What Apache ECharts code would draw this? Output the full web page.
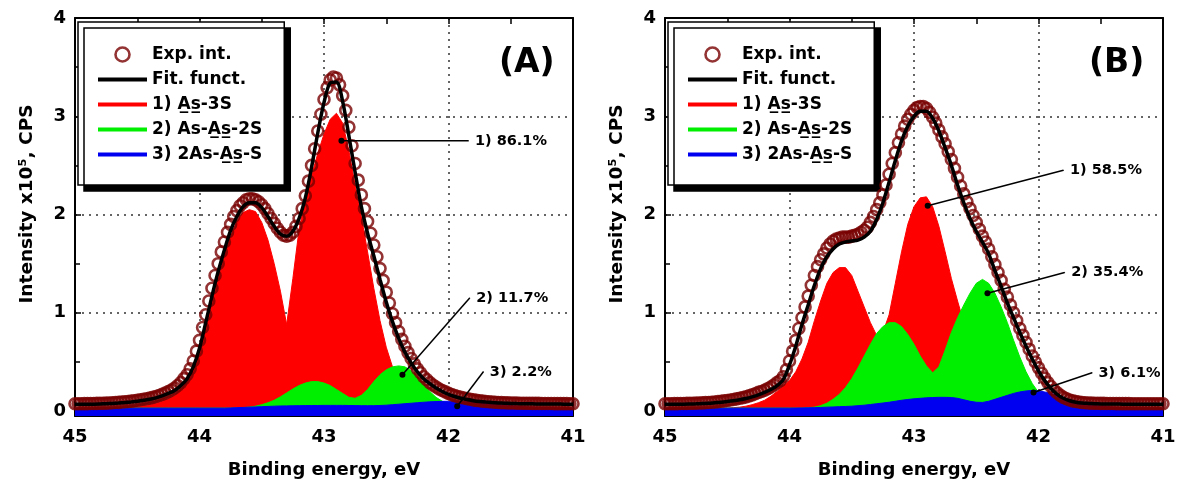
<!DOCTYPE html>
<html>
<head>
<meta charset="utf-8">
<title>As 3d XPS spectra</title>
<script src="https://cdn.jsdelivr.net/npm/echarts@6/dist/echarts.min.js"></script>
<style>
  html, body { margin: 0; padding: 0; background: #fff; }
  #chart { width: 1180px; height: 486px; }
</style>
</head>
<body>
<div id="chart"></div>
<script>
// Binding energy grids (eV), sampled from 45 down to 41.
function energyGrid(step) {
  const out = [];
  const n = Math.round(4 / step);
  for (let i = 0; i <= n; i++) out.push(+(45 - i * step).toFixed(3));
  return out;
}
const energyExp = energyGrid(0.025);   // experimental points
const energyFit = energyGrid(0.05);    // fit + components

const seriesNames = ['Exp. int.', 'Fit. funct.', '1) A\u0332s\u0332-3S', '2) As-A\u0332s\u0332-2S', '3) 2As-A\u0332s\u0332-S'];

// ---- Panel A (x10^5 CPS) ----
const expA = [
  0.075,0.075,0.075,0.076,0.076,0.077,0.077,0.078,0.079,0.08,
  0.081,0.083,0.085,0.087,0.089,0.092,0.095,0.098,0.101,0.105,
  0.11,0.115,0.12,0.125,0.132,0.14,0.148,0.158,0.17,0.183,
  0.198,0.215,0.235,0.26,0.29,0.33,0.37,0.43,0.51,0.61,
  0.72,0.85,0.98,1.12,1.25,1.38,1.5,1.62,1.72,1.82,
  1.9,1.98,2.04,2.09,2.12,2.15,2.16,2.16,2.15,2.13,
  2.1,2.06,2.01,1.96,1.91,1.86,1.82,1.79,1.78,1.79,
  1.82,1.88,1.96,2.06,2.19,2.34,2.5,2.67,2.85,3.02,
  3.17,3.29,3.37,3.4,3.39,3.32,3.21,3.06,2.89,2.7,
  2.52,2.35,2.2,2.06,1.93,1.81,1.69,1.57,1.45,1.33,
  1.21,1.1,0.99,0.9,0.81,0.73,0.66,0.595,0.535,0.48,
  0.43,0.39,0.35,0.32,0.29,0.265,0.245,0.225,0.21,0.195,
  0.18,0.168,0.157,0.148,0.14,0.133,0.126,0.12,0.114,0.109,
  0.105,0.101,0.098,0.095,0.092,0.09,0.088,0.086,0.085,0.084,
  0.083,0.082,0.081,0.08,0.08,0.079,0.079,0.078,0.078,0.078,
  0.077,0.077,0.077,0.077,0.076,0.076,0.076,0.076,0.076,0.075,
  0.075
];
const fitA = [
  0.07,0.07,0.07,0.07,0.072,0.075,0.078,0.082,0.087,0.093,
  0.1,0.11,0.12,0.135,0.155,0.18,0.21,0.26,0.33,0.45,
  0.64,0.9,1.17,1.42,1.64,1.84,1.98,2.08,2.12,2.12,
  2.07,1.98,1.88,1.8,1.78,1.83,1.96,2.17,2.48,2.83,
  3.14,3.34,3.35,3.15,2.8,2.43,2.08,1.81,1.58,1.34,
  1.11,0.91,0.74,0.6,0.49,0.4,0.33,0.28,0.235,0.2,
  0.17,0.148,0.13,0.117,0.106,0.098,0.092,0.087,0.083,0.08,
  0.078,0.076,0.075,0.074,0.073,0.072,0.072,0.071,0.071,0.07,
  0.07
];
const redA = [
  0.03,0.03,0.03,0.03,0.03,0.03,0.032,0.035,0.038,0.042,
  0.047,0.055,0.065,0.08,0.1,0.125,0.16,0.22,0.3,0.42,
  0.6,0.85,1.1,1.35,1.58,1.78,1.93,2.02,2.05,2.03,
  1.92,1.74,1.5,1.22,0.88,1.35,1.85,2.15,2.4,2.62,
  2.82,2.97,3.03,2.93,2.65,2.3,1.98,1.62,1.25,0.92,
  0.65,0.45,0.3,0.2,0.13,0.09,0.065,0.05,0.042,0.037,
  0.034,0.032,0.031,0.03,0.03,0.03,0.03,0.03,0.03,0.03,
  0.03,0.03,0.03,0.03,0.03,0.03,0.03,0.03,0.03,0.03,
  0.03
];
const greenA = [
  0.03,0.03,0.03,0.03,0.03,0.03,0.03,0.03,0.03,0.03,
  0.03,0.03,0.03,0.03,0.03,0.03,0.03,0.03,0.03,0.03,
  0.03,0.03,0.03,0.03,0.03,0.03,0.032,0.035,0.04,0.05,
  0.065,0.085,0.11,0.145,0.185,0.225,0.26,0.285,0.3,0.3,
  0.285,0.26,0.22,0.18,0.14,0.13,0.16,0.22,0.3,0.37,
  0.42,0.45,0.46,0.45,0.41,0.35,0.27,0.2,0.14,0.1,
  0.075,0.06,0.05,0.045,0.04,0.037,0.035,0.033,0.032,0.031,
  0.03,0.03,0.03,0.03,0.03,0.03,0.03,0.03,0.03,0.03,
  0.03
];
const blueA = [
  0.03,0.03,0.03,0.03,0.03,0.03,0.03,0.03,0.03,0.03,
  0.03,0.03,0.03,0.03,0.03,0.03,0.03,0.03,0.03,0.03,
  0.03,0.03,0.03,0.03,0.03,0.032,0.035,0.037,0.04,0.042,
  0.045,0.047,0.05,0.052,0.053,0.054,0.055,0.056,0.057,0.057,
  0.058,0.058,0.058,0.058,0.057,0.056,0.055,0.055,0.055,0.057,
  0.06,0.065,0.07,0.075,0.08,0.085,0.09,0.094,0.097,0.099,
  0.1,0.1,0.098,0.095,0.09,0.084,0.078,0.071,0.065,0.06,
  0.055,0.05,0.045,0.042,0.04,0.037,0.035,0.033,0.032,0.031,
  0.03
];
// annotation: [label, from (E, I), to (E, I)]
const notesA = [
  ['1) 86.1%', [42.86, 2.75], [41.84, 2.75]],
  ['2) 11.7%', [42.37, 0.37], [41.83, 1.15]],
  ['3) 2.2%',  [41.93, 0.05], [41.72, 0.40]]
];

// ---- Panel B ----
const expB = [
  0.075,0.075,0.075,0.076,0.076,0.077,0.077,0.078,0.079,0.08,
  0.081,0.082,0.084,0.086,0.088,0.09,0.093,0.096,0.1,0.104,
  0.108,0.113,0.118,0.124,0.13,0.137,0.145,0.155,0.165,0.177,
  0.19,0.2,0.212,0.228,0.245,0.265,0.29,0.31,0.35,0.42,
  0.51,0.61,0.72,0.84,0.95,1.06,1.17,1.28,1.38,1.47,
  1.54,1.6,1.66,1.7,1.73,1.75,1.76,1.77,1.77,1.77,
  1.78,1.79,1.8,1.82,1.84,1.87,1.92,1.98,2.05,2.12,
  2.2,2.3,2.41,2.52,2.63,2.73,2.82,2.9,2.97,3.02,
  3.06,3.09,3.1,3.1,3.08,3.04,2.99,2.93,2.86,2.79,
  2.72,2.64,2.56,2.47,2.38,2.29,2.21,2.13,2.06,1.99,
  1.92,1.85,1.78,1.72,1.65,1.57,1.49,1.41,1.33,1.24,
  1.16,1.08,1.0,0.92,0.84,0.77,0.7,0.63,0.56,0.5,
  0.44,0.385,0.335,0.29,0.25,0.215,0.185,0.16,0.14,0.125,
  0.113,0.104,0.097,0.092,0.088,0.085,0.083,0.081,0.08,0.079,
  0.078,0.078,0.077,0.077,0.077,0.076,0.076,0.076,0.076,0.076,
  0.075,0.075,0.075,0.075,0.075,0.075,0.075,0.075,0.075,0.075,
  0.075
];
const fitB = [
  0.07,0.07,0.07,0.07,0.072,0.074,0.077,0.08,0.085,0.09,
  0.097,0.105,0.115,0.128,0.145,0.165,0.19,0.22,0.26,0.32,
  0.47,0.66,0.88,1.08,1.28,1.45,1.57,1.65,1.7,1.72,
  1.73,1.74,1.77,1.83,1.95,2.12,2.33,2.55,2.75,2.9,
  3.0,3.05,3.05,2.98,2.85,2.68,2.5,2.3,2.12,1.96,
  1.83,1.72,1.6,1.43,1.27,1.1,0.95,0.8,0.66,0.53,
  0.41,0.31,0.23,0.17,0.13,0.105,0.09,0.082,0.078,0.075,
  0.073,0.072,0.071,0.071,0.07,0.07,0.07,0.07,0.07,0.07,
  0.07
];
const redB = [
  0.03,0.03,0.03,0.03,0.03,0.03,0.03,0.03,0.03,0.03,
  0.03,0.035,0.04,0.05,0.065,0.085,0.11,0.15,0.2,0.26,
  0.31,0.4,0.53,0.7,0.92,1.12,1.3,1.41,1.46,1.46,
  1.38,1.22,1.06,0.9,0.77,0.8,0.98,1.3,1.62,1.9,
  2.08,2.17,2.18,2.08,1.88,1.62,1.35,1.12,0.9,0.68,
  0.5,0.35,0.24,0.16,0.11,0.08,0.06,0.05,0.04,0.035,
  0.032,0.031,0.03,0.03,0.03,0.03,0.03,0.03,0.03,0.03,
  0.03,0.03,0.03,0.03,0.03,0.03,0.03,0.03,0.03,0.03,
  0.03
];
const greenB = [
  0.03,0.03,0.03,0.03,0.03,0.03,0.03,0.03,0.03,0.03,
  0.03,0.03,0.03,0.03,0.03,0.03,0.03,0.03,0.03,0.03,
  0.03,0.03,0.03,0.035,0.04,0.055,0.08,0.12,0.17,0.24,
  0.33,0.44,0.56,0.68,0.79,0.86,0.9,0.9,0.86,0.78,
  0.68,0.56,0.46,0.39,0.45,0.62,0.8,0.95,1.08,1.2,
  1.3,1.34,1.3,1.2,1.06,0.9,0.72,0.55,0.4,0.28,
  0.19,0.13,0.09,0.065,0.05,0.04,0.035,0.032,0.031,0.03,
  0.03,0.03,0.03,0.03,0.03,0.03,0.03,0.03,0.03,0.03,
  0.03
];
const blueB = [
  0.03,0.03,0.03,0.03,0.03,0.03,0.03,0.03,0.03,0.03,
  0.03,0.03,0.03,0.03,0.03,0.03,0.03,0.03,0.03,0.03,
  0.03,0.031,0.032,0.033,0.035,0.037,0.04,0.042,0.045,0.047,
  0.05,0.055,0.06,0.067,0.075,0.082,0.09,0.1,0.11,0.118,
  0.125,0.13,0.135,0.138,0.14,0.14,0.138,0.13,0.115,0.1,
  0.09,0.088,0.1,0.12,0.14,0.16,0.18,0.195,0.205,0.21,
  0.205,0.195,0.18,0.16,0.14,0.12,0.1,0.085,0.07,0.06,
  0.05,0.045,0.04,0.037,0.035,0.033,0.032,0.031,0.03,0.03,
  0.03
];
const notesB = [
  ['1) 58.5%', [42.89, 2.09], [41.80, 2.45]],
  ['2) 35.4%', [42.41, 1.20], [41.79, 1.41]],
  ['3) 6.1%',  [42.04, 0.19], [41.57, 0.39]]
];

const xTicks = { min: 41, max: 45, interval: 1 };
const yRange = { min: -0.05, max: 4 };

const FONT = 'DejaVu Sans';
const EXP_COLOR = '#780000';
const COMP_COLORS = ['#ff0000', '#00ee00', '#0000f0'];

const panels = [
  { left: 75, tag: '(A)', exp: expA, fit: fitA, comps: [redA, greenA, blueA], notes: notesA },
  { left: 665, tag: '(B)', exp: expB, fit: fitB, comps: [redB, greenB, blueB], notes: notesB }
];

const pairs = (xs, ys) => xs.map((x, i) => [x, ys[i]]);

const boldText = (size) => ({ fontFamily: FONT, fontWeight: 'bold', fontSize: size, color: '#000' });

const option = {
  animation: false,
  backgroundColor: '#fff',
  grid: [], xAxis: [], yAxis: [], series: [], legend: [], title: []
};

panels.forEach((p, i) => {
  option.grid.push({ left: p.left, width: 498, top: 18, bottom: 70, show: false });

  const tickStyle = { color: '#000', width: 1.5 };
  const axisLine = { show: true, onZero: false, lineStyle: { color: '#000', width: 2 } };
  const dotted = { show: true, lineStyle: { color: '#333', width: 1.5, type: [2, 5] } };

  option.xAxis.push({
    gridIndex: i, type: 'value', inverse: true, ...xTicks,
    axisLine, axisTick: { inside: true, length: 6, lineStyle: tickStyle },
    minorTick: { show: true, splitNumber: 2, length: 6, lineStyle: tickStyle },
    axisLabel: { margin: 12, ...boldText(18) },
    splitLine: dotted,
    name: 'Binding energy, eV', nameLocation: 'middle', nameGap: 45,
    nameTextStyle: boldText(18)
  });
  option.xAxis.push({
    gridIndex: i, type: 'value', inverse: true, position: 'top', ...xTicks,
    axisLine, axisTick: { inside: true, length: 6, lineStyle: tickStyle },
    minorTick: { show: true, splitNumber: 2, length: 6, lineStyle: tickStyle },
    axisLabel: { show: false }, splitLine: { show: false }
  });
  option.yAxis.push({
    gridIndex: i, type: 'value', ...yRange, splitNumber: 4,
    axisLine, axisTick: { inside: true, length: 6, lineStyle: tickStyle },
    minorTick: { show: true, splitNumber: 2, length: 5, lineStyle: tickStyle },
    axisLabel: { margin: 9, ...boldText(18), formatter: v => (v < 0 ? '' : String(v)) },
    splitLine: dotted,
    name: 'Intensity x10\u2075, CPS', nameLocation: 'middle', nameRotate: 90, nameGap: 38,
    nameTextStyle: { ...boldText(18.5), padding: [0, 0, 0, 26] }
  });
  option.yAxis.push({
    gridIndex: i, type: 'value', position: 'right', ...yRange, splitNumber: 4,
    axisLine, axisTick: { show: false }, axisLabel: { show: false }, splitLine: { show: false }
  });

  const xi = i * 2, yi = i * 2;

  // component peaks, filled down to the axis bottom
  p.comps.forEach((vals, k) => {
    option.series.push({
      name: seriesNames[2 + k], type: 'line', xAxisIndex: xi, yAxisIndex: yi,
      data: pairs(energyFit, vals), symbol: 'none',
      lineStyle: { color: COMP_COLORS[k], width: 1 },
      itemStyle: { color: COMP_COLORS[k] },
      areaStyle: { color: COMP_COLORS[k], opacity: 1, origin: 'start' },
      z: 2 + k
    });
  });

  option.series.push({
    name: seriesNames[0], type: 'scatter', xAxisIndex: xi, yAxisIndex: yi,
    data: pairs(energyExp, p.exp), symbol: 'circle', symbolSize: 11,
    itemStyle: { color: 'rgba(255,255,255,0)', borderColor: EXP_COLOR, borderWidth: 2.6 },
    z: 6
  });
  option.series.push({
    name: seriesNames[1], type: 'line', xAxisIndex: xi, yAxisIndex: yi,
    data: pairs(energyFit, p.fit), symbol: 'none', smooth: 0.3,
    lineStyle: { color: '#000', width: 3.5 }, itemStyle: { color: '#000' },
    z: 7
  });

  // percentage labels with leader lines
  p.notes.forEach(([text, from, to]) => {
    option.series.push({
      type: 'line', xAxisIndex: xi, yAxisIndex: yi, silent: true, z: 9,
      lineStyle: { color: '#000', width: 1.5 }, itemStyle: { color: '#000' },
      data: [
        { value: from, symbol: 'circle', symbolSize: 6 },
        { value: to, symbol: 'circle', symbolSize: 1,
          label: { show: true, position: 'right', distance: 6, formatter: text, ...boldText(14.5) } }
      ]
    });
  });

  const hideDot = { opacity: 0 };
  option.legend.push({
    left: p.left + 3, top: 22, orient: 'vertical',
    itemWidth: 49, itemHeight: 14, itemGap: 8,
    padding: [24, 22, 22, 18],
    backgroundColor: '#fff', borderColor: '#000', borderWidth: 1.5,
    shadowColor: '#000', shadowBlur: 0, shadowOffsetX: 6, shadowOffsetY: 6,
    textStyle: boldText(17),
    data: [
      { name: seriesNames[0], icon: 'circle',
        itemStyle: { color: 'rgba(255,255,255,0)', borderColor: EXP_COLOR, borderWidth: 2.6 } },
      { name: seriesNames[1], lineStyle: { width: 4 }, itemStyle: hideDot },
      { name: seriesNames[2], lineStyle: { width: 4 }, itemStyle: hideDot },
      { name: seriesNames[3], lineStyle: { width: 4 }, itemStyle: hideDot },
      { name: seriesNames[4], lineStyle: { width: 4 }, itemStyle: hideDot }
    ]
  });

  option.title.push({
    text: p.tag, left: p.left + 419, top: 42,
    textStyle: boldText(33)
  });
});

const chart = echarts.init(document.getElementById('chart'), null, { renderer: 'canvas' });
chart.setOption(option);
</script>
</body>
</html>
